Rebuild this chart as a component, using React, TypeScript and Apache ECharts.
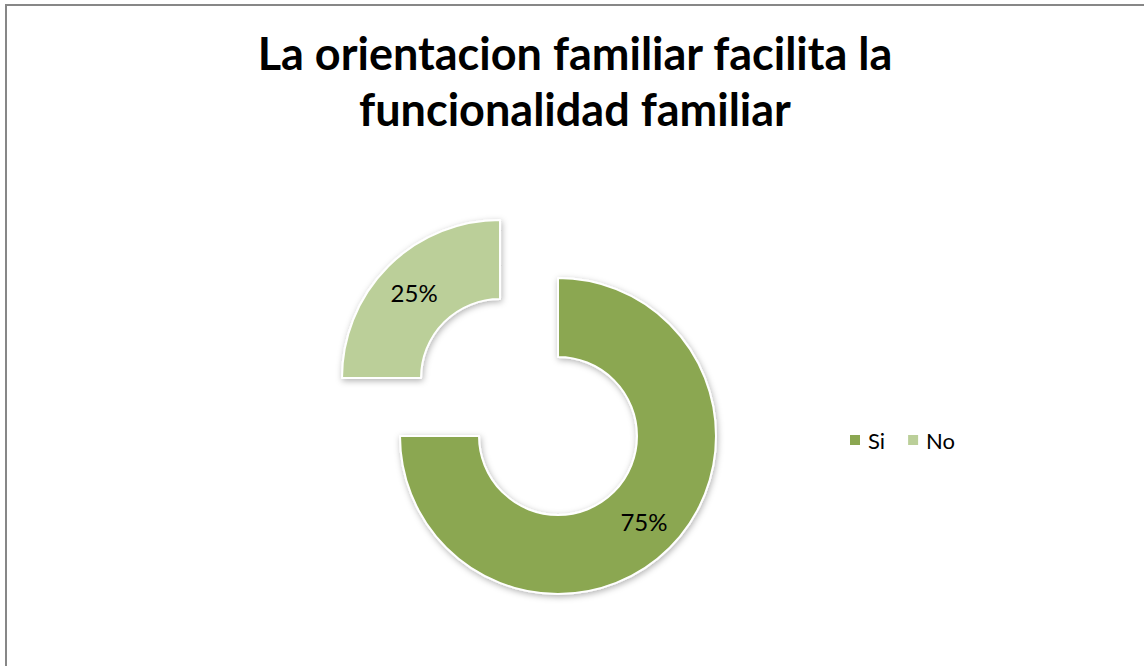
import React, { useEffect, useRef } from "react";
import * as echarts from "echarts";

const titleLines = ["La orientacion familiar facilita la", "funcionalidad familiar"];
const categories = ["Si", "No"];
const values = [75, 25];
const colors = ["#8BA751", "#BBCF99"];

export default function App() {
  const ref = useRef<HTMLDivElement>(null);
  useEffect(() => {
    if (!ref.current) return;
    const chart = echarts.init(ref.current, null, { renderer: "svg" });
    const font = "Lato, 'Open Sans', sans-serif";
    chart.setOption({
      animation: false,
      backgroundColor: "#ffffff",
      title: {
        text: titleLines.join("\n"),
        left: 570,
        textAlign: "center",
        top: 20,
        textStyle: {
          fontFamily: font,
          fontWeight: "bold",
          fontSize: 45,
          lineHeight: 56,
          color: "#000",
        },
      },
      legend: {
        left: 843,
        top: 424,
        orient: "horizontal",
        icon: "rect",
        itemWidth: 12,
        itemHeight: 12,
        itemGap: 21,
        selectedMode: false,
        data: categories,
        textStyle: { fontFamily: font, fontSize: 22, color: "#000", padding: [0, 0, 0, 2] },
      },
      graphic: [
        {
          type: "rect",
          shape: { x: 6, y: 5, width: 1200, height: 800 },
          style: { fill: "none", stroke: "#878787", lineWidth: 2 },
          silent: true,
        },
      ],
      series: [
        {
          type: "pie",
          center: [558, 436],
          radius: [79, 158],
          startAngle: 90,
          clockwise: true,
          selectedMode: "single",
          selectedOffset: 82,
          avoidLabelOverlap: false,
          emphasis: { disabled: true },
          label: {
            show: true,
            position: "inside",
            formatter: "{d}%",
            fontFamily: font,
            fontSize: 24,
            color: "#000",
          },
          labelLine: { show: false },
          itemStyle: {
            borderColor: "#ffffff",
            borderWidth: 2,
            shadowBlur: 6,
            shadowColor: "rgba(0,0,0,0.3)",
            shadowOffsetX: 1,
            shadowOffsetY: 2,
          },
          data: categories.map((c, i) => ({
            name: c,
            value: values[i],
            selected: c === "No",
            itemStyle: { color: colors[i] },
          })),
        },
      ],
    });
    return () => chart.dispose();
  }, []);
  return (
    <div
      ref={ref}
      style={{ position: "fixed", left: 0, top: 0, width: 1144, height: 666 }}
    />
  );
}
